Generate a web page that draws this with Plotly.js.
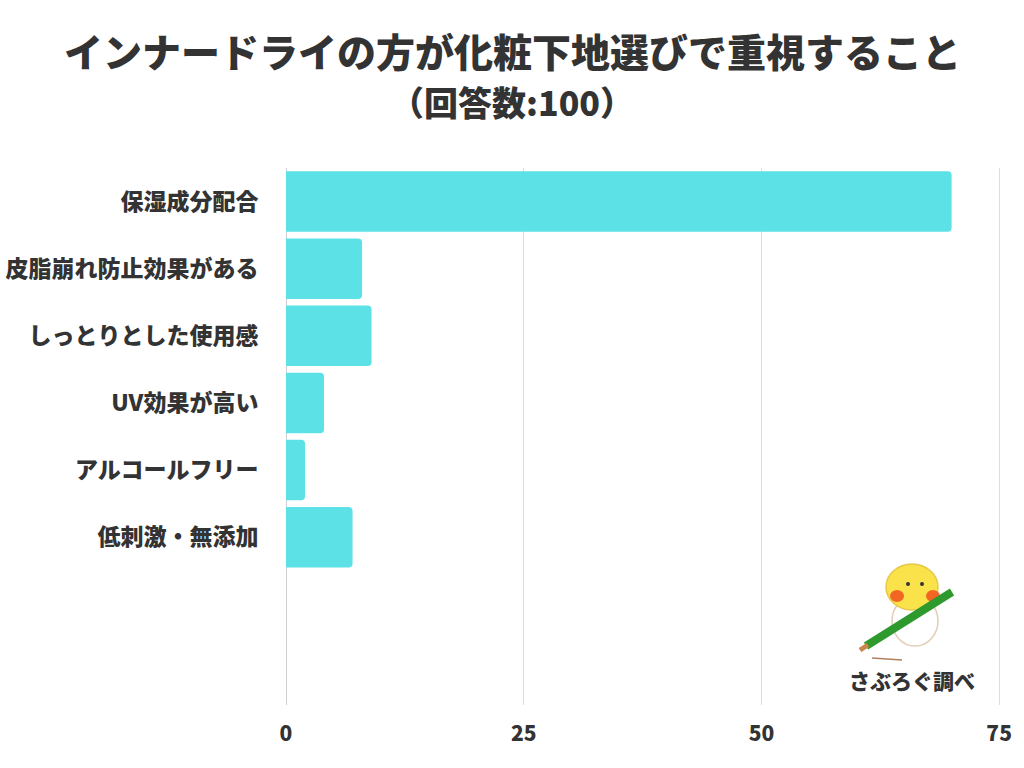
<!DOCTYPE html>
<html>
<head>
<meta charset="utf-8">
<script src="https://cdn.plot.ly/plotly-3.0.1.min.js"></script>
<style>
  html, body { margin: 0; padding: 0; background: #fff; }
  #chart { width: 1024px; height: 768px; }
</style>
</head>
<body>
<div id="chart"></div>
<script>
// Answers, top to bottom as in the survey graphic (n = 100)
const categories = ['保湿成分配合', '皮脂崩れ防止効果がある', 'しっとりとした使用感', 'UV効果が高い', 'アルコールフリー', '低刺激・無添加'];
const counts = [70, 8, 9, 4, 2, 7];
const xTicks = [0, 25, 50, 75];

const titleText = 'インナードライの方が化粧下地選びで重視すること';
const subtitleText = '（回答数:100）';
const creditText = 'さぶろぐ調べ';

const FONT = '"Noto Sans CJK JP", "Noto Sans", sans-serif';
const INK = '#333333';

// plot area in pixels, used to place the header and the mascot
const M = { l: 286, r: 22, t: 168, b: 63 };
const W = 1024, H = 768;
const pw = W - M.l - M.r, ph = H - M.t - M.b;
const px = (x) => (x - M.l) / pw;
const py = (y) => (H - M.b - y) / ph;

// little mascot made of shapes, anchored on one paper point, sized in pixels
const ax = px(912), ay = py(600);
function blob(x0, y0, x1, y1, fill, line) {
  return {
    type: 'circle', xref: 'paper', yref: 'paper', xsizemode: 'pixel', ysizemode: 'pixel',
    xanchor: ax, yanchor: ay, x0, x1, y0: -y0, y1: -y1,
    fillcolor: fill, line: { color: line || 'rgba(0,0,0,0)', width: 1.5 },
  };
}
function stroke(x0, y0, x1, y1, color, width) {
  return {
    type: 'line', xref: 'paper', yref: 'paper', xsizemode: 'pixel', ysizemode: 'pixel',
    xanchor: ax, yanchor: ay, x0, x1, y0: -y0, y1: -y1,
    line: { color, width },
  };
}
const mascot = [
  blob(-20, -4, 26, 46, '#ffffff', '#e3cdb5'),     // body
  blob(-26, -36, 26, 10, '#f9e24a', '#e6c84a'),    // head
  blob(-22, -10, -8, 2, '#f26522'),                // cheek
  blob(14, -10, 28, 2, '#f26522'),                 // cheek
  blob(-6, -18, -2, -14, '#333333'),
  blob(8, -18, 12, -14, '#333333'),
  stroke(-46, 46, 40, -8, '#2e9a2e', 8),           // pencil
  stroke(-52, 50, -44, 45, '#c8864a', 5),          // pencil tip
  stroke(-40, 58, -10, 60, '#b08060', 1.5),        // scribble
];

const trace = {
  type: 'bar',
  orientation: 'h',
  y: categories,
  x: counts,
  marker: { color: '#5ce1e6', cornerradius: 4 },
  hoverinfo: 'y+x',
};

const layout = {
  width: W,
  height: H,
  margin: M,
  paper_bgcolor: '#ffffff',
  plot_bgcolor: '#ffffff',
  font: { family: FONT, color: INK, size: 20, weight: 700 },
  bargap: 0.1,
  showlegend: false,
  xaxis: {
    range: [0, 75.3],
    tickvals: xTicks,
    ticktext: xTicks.map(String),
    showgrid: true,
    gridcolor: '#dedede',
    gridwidth: 1,
    zeroline: true,
    zerolinecolor: '#cfcfcf',
    zerolinewidth: 1,
    showline: false,
    ticks: 'outside',
    ticklen: 10,
    tickcolor: 'rgba(0,0,0,0)',
    tickfont: { family: FONT, size: 21, color: INK, weight: 900 },
    fixedrange: true,
  },
  yaxis: {
    type: 'category',
    categoryorder: 'array',
    categoryarray: categories,
    range: [7.5, -0.5],
    showgrid: false,
    zeroline: false,
    showline: false,
    ticks: 'outside',
    ticklen: 22,
    tickcolor: 'rgba(0,0,0,0)',
    tickfont: { family: FONT, size: 23, color: INK, weight: 900 },
    fixedrange: true,
  },
  shapes: mascot,
  annotations: [
    {
      text: titleText, xref: 'paper', yref: 'paper', x: px(512), y: py(50),
      xanchor: 'center', yanchor: 'middle', showarrow: false,
      font: { family: FONT, size: 39, color: INK, weight: 900 },
    },
    {
      text: subtitleText, xref: 'paper', yref: 'paper', x: px(512), y: py(101),
      xanchor: 'center', yanchor: 'middle', showarrow: false,
      font: { family: FONT, size: 34, color: INK, weight: 900 },
    },
    {
      text: creditText, xref: 'paper', yref: 'paper', x: px(912), y: py(680),
      xanchor: 'center', yanchor: 'middle', showarrow: false,
      font: { family: FONT, size: 21, color: INK, weight: 900 },
    },
  ],
};

Plotly.newPlot('chart', [trace], layout, { displayModeBar: false, staticPlot: true });
</script>
</body>
</html>
